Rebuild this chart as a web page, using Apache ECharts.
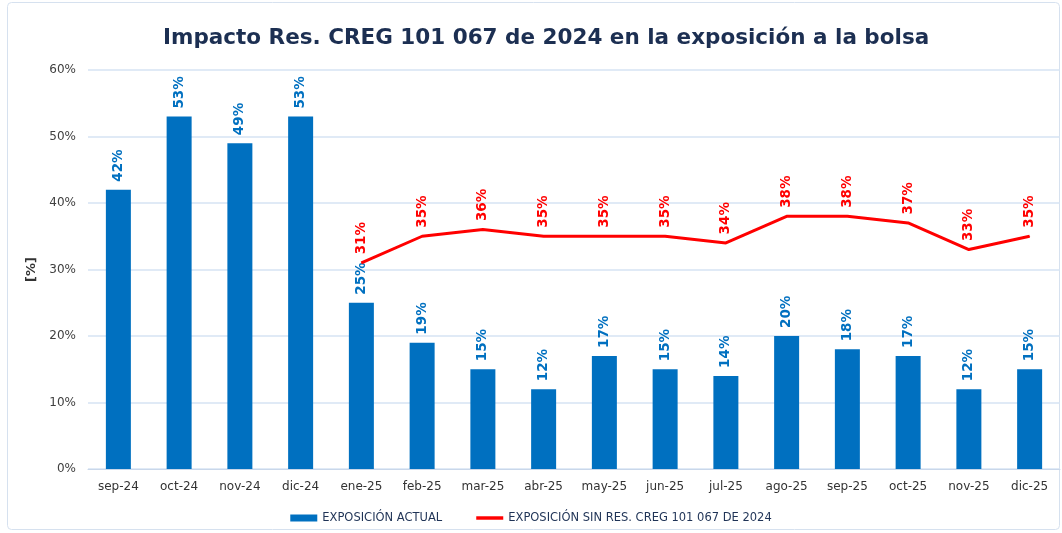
<!DOCTYPE html>
<html>
<head>
<meta charset="utf-8">
<script src="https://cdn.jsdelivr.net/npm/echarts@6/dist/echarts.min.js"></script>
<style>
    html, body {margin: 0; padding: 0; background: #fff;}
    #chart {width: 1062px; height: 533px;}
</style>
</head>
<body>
<div id="chart"></div>
<script>
var months = ['sep-24', 'oct-24', 'nov-24', 'dic-24', 'ene-25', 'feb-25', 'mar-25', 'abr-25',
    'may-25', 'jun-25', 'jul-25', 'ago-25', 'sep-25', 'oct-25', 'nov-25', 'dic-25'];
var actual = [42, 53, 49, 53, 25, 19, 15, 12, 17, 15, 14, 20, 18, 17, 12, 15];
var sinRes = [null, null, null, null, 31, 35, 36, 35, 35, 35, 34, 38, 38, 37, 33, 35];
var yTicks = [0, 10, 20, 30, 40, 50, 60];

var chart = echarts.init(document.getElementById('chart'));

// etiqueta vertical encima de barra / punto
function vLabel(color) {
    return {
        show: true,
        position: 'top',
        rotate: 90,
        align: 'left',
        verticalAlign: 'middle',
        distance: 8,
        formatter: '{c}%',
        color: color,
        fontWeight: 'bold',
        fontSize: 13.5
    };
}

var option = {
    animation: false,
    textStyle: {fontFamily: 'DejaVu Sans'},
    title: {
        text: 'Impacto Res. CREG 101 067 de 2024 en la exposición a la bolsa',
        left: 158,
        top: 22,
        textStyle: {fontSize: 21.5, fontWeight: 'bold', color: '#1C2F52', fontFamily: 'DejaVu Sans'}
    },
    graphic: [{
        type: 'rect',
        shape: {x: 7.5, y: 2.5, width: 1052, height: 527, r: 4},
        style: {fill: 'none', stroke: '#D6E1EF', lineWidth: 1},
        silent: true
    }],
    legend: {
        bottom: 4,
        left: 'center',
        itemGap: 34,
        itemWidth: 27,
        itemHeight: 7,
        symbolKeepAspect: true,
        textStyle: {fontSize: 11.5, color: '#1F3356'},
        data: [
            {name: 'EXPOSICIÓN ACTUAL', icon: 'rect'},
            {
                name: 'EXPOSICIÓN SIN RES. CREG 101 067 DE 2024',
                icon: 'path://M0,0 L28,0 L28,3.6 L0,3.6 Z',
                itemStyle: {color: '#FF0000'}
            }
        ]
    },
    grid: {left: 88, right: 2, top: 70, bottom: 64, containLabel: false},
    xAxis: {
        type: 'category',
        data: months,
        axisLine: {lineStyle: {color: '#C9D7EA'}},
        axisTick: {show: false},
        axisLabel: {color: '#333', fontSize: 12, margin: 12}
    },
    yAxis: {
        type: 'value',
        min: yTicks[0],
        max: yTicks[yTicks.length - 1],
        interval: 10,
        name: '[%]',
        nameLocation: 'middle',
        nameGap: 46,
        nameTextStyle: {fontWeight: 'bold', fontSize: 13, color: '#333'},
        axisLabel: {formatter: '{value}%', color: '#404040', fontSize: 12, margin: 12},
        axisLine: {show: false},
        axisTick: {show: false},
        splitLine: {lineStyle: {color: '#D6E3F3', width: 1.5}}
    },
    series: [
        {
            name: 'EXPOSICIÓN ACTUAL',
            type: 'bar',
            data: actual,
            barWidth: 25,
            itemStyle: {color: '#0070C0'},
            label: vLabel('#0070C0')
        },
        {
            name: 'EXPOSICIÓN SIN RES. CREG 101 067 DE 2024',
            type: 'line',
            data: sinRes,
            symbol: 'circle',
            symbolSize: 1,
            showSymbol: true,
            lineStyle: {color: '#FF0000', width: 3},
            itemStyle: {color: '#FF0000'},
            label: vLabel('#FF0000')
        }
    ]
};

chart.setOption(option);
</script>
</body>
</html>
